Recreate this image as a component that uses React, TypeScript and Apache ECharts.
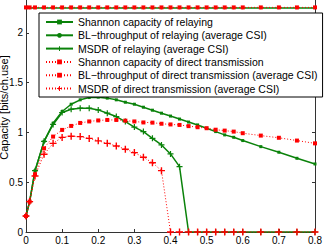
import React, { useEffect, useRef } from "react";
import * as echarts from "echarts";

const xValues = [0, 0.01, 0.025, 0.05, 0.075, 0.1, 0.125, 0.15, 0.175, 0.2, 0.225, 0.25, 0.275, 0.3, 0.325, 0.35, 0.375, 0.4, 0.425, 0.45, 0.475, 0.5, 0.525, 0.55, 0.575, 0.6, 0.65, 0.7, 0.75, 0.8];

const shannonRelay = [0.16, 0.305, 0.616, 0.91, 1.092, 1.21, 1.283, 1.327, 1.35, 1.354, 1.344, 1.327, 1.303, 1.283, 1.253, 1.223, 1.193, 1.164, 1.134, 1.104, 1.075, 1.042, 1.008, 0.975, 0.951, 0.918, 0.857, 0.801, 0.74, 0.683];
const blRelay = [2.25, 2.25, 2.25, 2.25, 2.25, 2.25, 2.25, 2.25, 2.25, 2.25, 2.25, 2.25, 2.25, 2.25, 2.25, 2.25, 2.25, 2.25, 2.25, 2.25, 2.25, 2.25, 2.25, 2.25, 2.25, 2.25, 2.25, 2.25, 2.25, 2.25];
const msdrRelay = [0.16, 0.305, 0.616, 0.91, 1.08, 1.2, 1.233, 1.243, 1.243, 1.226, 1.193, 1.159, 1.109, 1.053, 1.008, 0.941, 0.874, 0.784, 0.656, 0, 0, 0, 0, 0, 0, 0, 0, 0, 0, 0];
const shannonDirect = [0.16, 0.305, 0.58, 0.84, 0.958, 1.025, 1.065, 1.095, 1.11, 1.12, 1.125, 1.125, 1.118, 1.11, 1.1, 1.098, 1.087, 1.08, 1.075, 1.063, 1.052, 1.042, 1.027, 1.018, 1.008, 0.992, 0.968, 0.946, 0.918, 0.89];
const blDirect = [2.255, 2.255, 2.255, 2.255, 2.255, 2.255, 2.255, 2.255, 2.255, 2.255, 2.255, 2.255, 2.255, 2.255, 2.255, 2.255, 2.255, 2.255, 2.255, 2.255, 2.255, 2.255, 2.255, 2.255, 2.255, 2.255, 2.255, 2.255, 2.255, 2.255];
const msdrDirect = [0.16, 0.305, 0.563, 0.78, 0.89, 0.95, 0.962, 0.958, 0.94, 0.915, 0.89, 0.864, 0.831, 0.797, 0.75, 0.696, 0.616, 0, 0, 0, 0, 0, 0, 0, 0, 0, 0, 0, 0, 0];

const seriesNames = [
  "Shannon capacity of relaying",
  "BL\u2212throughput of relaying (average CSI)",
  "MSDR of relaying (average CSI)",
  "Shannon capacity of direct transmission",
  "BL\u2212throughput of direct transmission (average CSI)",
  "MSDR of direct transmission (average CSI)",
];

const xTicks = [0, 0.1, 0.2, 0.3, 0.4, 0.5, 0.6, 0.7, 0.8];
const yTicks = [0, 0.5, 1, 1.5, 2];

const PLUS = "path://M4,0h2v4h4v2h-4v4h-2v-4h-4v-2h4z";
const GREEN = "#0a820a";
const RED = "#ff0000";

function pairs(ys: number[]) {
  return ys.map((y, i) => [xValues[i], y]);
}

export default function App() {
  const ref = useRef<HTMLDivElement>(null);
  useEffect(() => {
    if (!ref.current) return;
    const chart = echarts.init(ref.current, undefined, { renderer: "svg" });
    const font = "Liberation Sans, Arial, sans-serif";
    const mk = (
      name: string,
      ys: number[],
      color: string,
      dotted: boolean,
      symbol: string,
      size: number,
      width: number
    ) => ({
      name,
      type: "line",
      data: pairs(ys),
      symbol,
      symbolSize: size,
      showAllSymbol: true,
      clip: false,
      lineStyle: { color, width, type: dotted ? [1, 2] : "solid" },
      itemStyle: { color, borderWidth: 0 },
      emphasis: { disabled: true },
    });
    chart.setOption({
      animation: false,
      textStyle: { fontFamily: font },
      grid: { left: 26, right: 14, top: -17, bottom: 13, containLabel: false, outerBoundsMode: "none" },
      legend: {
        orient: "vertical",
        left: 39,
        top: 13,
        padding: [3.5, 5, 3, 6],
        itemGap: 2.3,
        itemWidth: 27,
        itemHeight: 6,
        backgroundColor: "#fff",
        borderColor: "#000",
        borderWidth: 1,
        borderRadius: 0,
        textStyle: { fontSize: 10.5, color: "#000", fontFamily: font },
        data: seriesNames,
      },
      xAxis: {
        type: "value",
        min: 0,
        max: 0.8,
        interval: 0.1,
        axisLine: { show: true, onZero: false, lineStyle: { color: "#333", width: 1 } },
        axisTick: { show: true, inside: true, length: 3, lineStyle: { color: "#333" } },
        splitLine: { show: false },
        axisLabel: {
          color: "#000",
          fontSize: 10,
          margin: 3,
          fontFamily: font,
          formatter: (v: number) => (xTicks.some((t) => Math.abs(t - v) < 1e-9) ? String(+v.toFixed(1)) : ""),
        },
      },
      yAxis: [
        {
          type: "value",
          min: 0,
          max: 2.5,
          interval: 0.5,
          name: "Capacity [bits/ch.use]",
          nameLocation: "middle",
          nameGap: 16.5,
          nameMoveOverlap: false,
          nameTextStyle: { fontSize: 11, color: "#000", fontFamily: font },
          axisLine: { show: true, lineStyle: { color: "#333", width: 1 } },
          axisTick: { show: true, inside: true, length: 3, lineStyle: { color: "#333" } },
          splitLine: { show: false },
          axisLabel: {
            color: "#000",
            fontSize: 10,
            margin: 3,
            fontFamily: font,
            formatter: (v: number) => (yTicks.some((t) => Math.abs(t - v) < 1e-9) ? String(v) : ""),
          },
        },
        {
          type: "value",
          position: "right",
          min: 0,
          max: 2.5,
          interval: 0.5,
          axisLine: { show: true, lineStyle: { color: "#333", width: 1 } },
          axisTick: { show: true, inside: true, length: 3, lineStyle: { color: "#333" } },
          axisLabel: { show: false },
          splitLine: { show: false },
        },
      ],
      series: [
        mk(seriesNames[0], shannonRelay, GREEN, false, "rect", 3, 1.5),
        mk(seriesNames[1], blRelay, GREEN, false, "circle", 2.5, 1.5),
        mk(seriesNames[2], msdrRelay, GREEN, false, PLUS, 6, 1.5),
        mk(seriesNames[3], shannonDirect, RED, true, "rect", 4, 1),
        mk(seriesNames[4], blDirect, RED, true, "rect", 4, 1),
        mk(seriesNames[5], msdrDirect, RED, true, PLUS, 7, 1),
      ],
    });
    return () => chart.dispose();
  }, []);
  return <div ref={ref} style={{ width: 329, height: 245, position: "absolute", left: 0, top: 0 }} />;
}
